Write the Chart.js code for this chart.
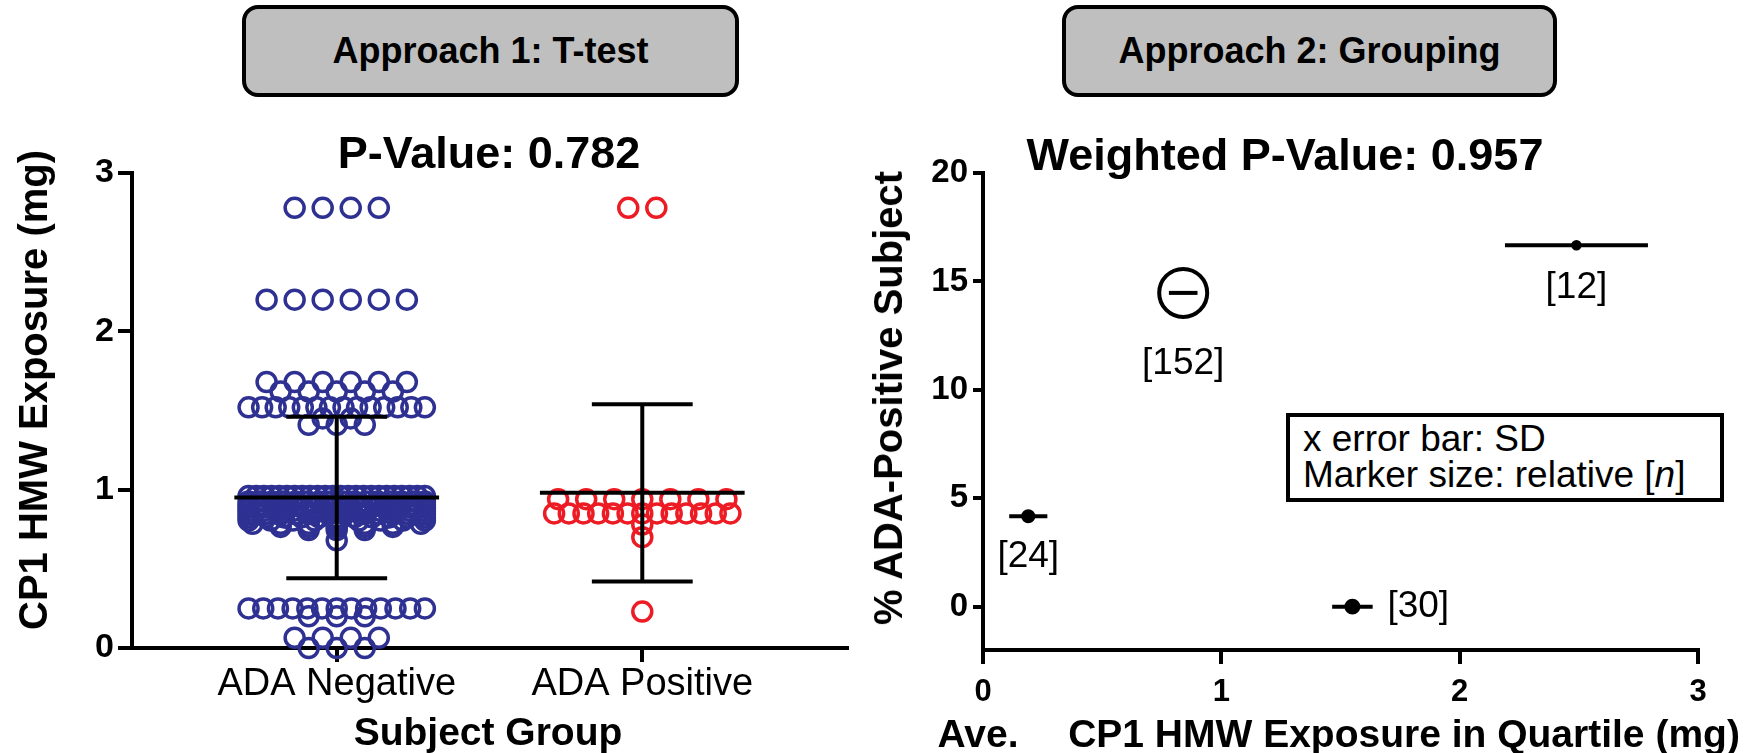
<!DOCTYPE html>
<html>
<head>
<meta charset="utf-8">
<script src="https://cdn.jsdelivr.net/npm/chart.js@4.4.1/dist/chart.umd.min.js"></script>
<style>
  body { margin: 0; background: #fff; }
  #wrap { position: relative; width: 1749px; height: 753px; overflow: hidden; font-family: "Liberation Sans", Arial, sans-serif; color: #000; }
  canvas { position: absolute; top: 0; }
  .hdr { position: absolute; top: 5px; height: 92px; box-sizing: border-box; border: 4px solid #000; border-radius: 16px; background: #bfbfbf;
         font-weight: bold; font-size: 36px; display: flex; align-items: center; justify-content: center; }
  .t { position: absolute; white-space: nowrap; line-height: 1; font-weight: bold; transform: translate(-50%, -50%); }
  .rot { transform: translate(-50%, -50%) rotate(-90deg); }
  #note { position: absolute; left: 1286px; top: 413px; width: 438px; height: 89px; box-sizing: border-box; border: 4px solid #000;
          padding: 4px 0 0 13px; font-size: 37px; line-height: 36px; white-space: nowrap; background: #fff; }
</style>
</head>
<body>
<div id="wrap">
  <canvas id="left" width="880" height="753" style="left:0"></canvas>
  <canvas id="right" width="869" height="753" style="left:880px"></canvas>

  <div class="hdr" style="left:242px; width:497px">Approach 1: T-test</div>
  <div class="hdr" style="left:1062px; width:495px">Approach 2: Grouping</div>

  <div class="t" style="left:489px; top:152px; font-size:45px">P-Value: 0.782</div>
  <div class="t" style="left:1285px; top:154px; font-size:45px">Weighted P-Value: 0.957</div>

  <div class="t rot" style="left:33px; top:390px; font-size:40px">CP1 HMW Exposure (mg)</div>
  <div class="t" style="left:488px; top:731px; font-size:39px">Subject Group</div>

  <div class="t rot" style="left:888px; top:398px; font-size:40px">% ADA-Positive Subject</div>
  <div class="t" style="left:978px; top:733px; font-size:39px">Ave.</div>
  <div class="t" style="left:1404px; top:733px; font-size:39px">CP1 HMW Exposure in Quartile (mg)</div>

  <div id="note">x error bar: SD<br>Marker size: relative [<i>n</i>]</div>
</div>
<script>
// ---- Approach 1: individual exposures per subject group ----
const categories = ['ADA Negative', 'ADA Positive'];
const negValues = [2.78, 2.20, 1.68, 1.62, 1.52, 1.45, 1.41,
                   0.96, 0.925, 0.905, 0.885, 0.865, 0.845, 0.825, 0.805, 0.785, 0.765, 0.745, 0.68,
                   0.25, 0.20, 0.065, 0.0];
const negCounts = [4, 6, 6, 5, 14, 2, 3,
                   24, 16, 15, 14, 13, 12, 11, 9, 7, 5, 3, 1,
                   13, 3, 4, 3];
const posValues = [2.78, 0.94, 0.85, 0.78, 0.70, 0.23];
const posCounts = [2, 7, 13, 1, 1, 1];
const groupMean = [0.95, 0.98];
const groupSD = [0.51, 0.56];
const leftYTicks = [0, 1, 2, 3];

// ---- Approach 2: quartile groups ----
const quartileN = [24, 152, 30, 12];
const quartileX = [0.19, 0.84, 1.55, 2.49];
const quartileSD = [0.08, 0.06, 0.085, 0.30];
const quartilePct = [4.17, 14.47, 0, 16.67];
const rightXTicks = [0, 1, 2, 3];
const rightYTicks = [0, 5, 10, 15, 20];

const FONT = '"Liberation Sans", Arial, sans-serif';
const BLUE = '#2e3192';
const RED = '#ed1c24';
Chart.defaults.font.family = FONT;
Chart.defaults.color = '#000';

// scatter-dot layout: equal values sit side by side, squeezed when a row gets too wide
const PX_PER_CAT = 305, GAP = 28, HALF = 88;
function swarm(values, counts, cat) {
    const pts = [];
    values.forEach((v, i) => {
        const n = counts[i];
        const step = n > 1 ? Math.min(GAP, 2 * HALF / (n - 1)) : 0;
        for (let k = 0; k < n; k++) {
            pts.push({ x: cat + (k - (n - 1) / 2) * step / PX_PER_CAT, y: v });
        }
    });
    return pts;
}

function seg(x1, y1, x2, y2) {
    return {
        data: [{ x: x1, y: y1 }, { x: x2, y: y2 }],
        showLine: true, pointRadius: 0, borderColor: '#000', borderWidth: 4,
        borderCapStyle: 'butt', order: 0, clip: false
    };
}

const axisStyle = {
    grid: { display: true, drawOnChartArea: false, drawTicks: true, tickLength: 14, color: '#000', lineWidth: 4 },
    border: { display: true, color: '#000', width: 4 }
};

const leftSets = [];
categories.forEach((c, g) => {
    const m = groupMean[g], sd = groupSD[g];
    leftSets.push(seg(g - 0.335, m, g + 0.335, m));
    leftSets.push(seg(g, m - sd, g, m + sd));
    leftSets.push(seg(g - 0.165, m + sd, g + 0.165, m + sd));
    leftSets.push(seg(g - 0.165, m - sd, g + 0.165, m - sd));
});
leftSets.push({
    label: categories[0], data: swarm(negValues, negCounts, 0),
    pointRadius: 9.5, borderWidth: 3.5, borderColor: BLUE, backgroundColor: 'rgba(0,0,0,0)', order: 1, clip: false
});
leftSets.push({
    label: categories[1], data: swarm(posValues, posCounts, 1),
    pointRadius: 9.5, borderWidth: 3.5, borderColor: RED, backgroundColor: 'rgba(0,0,0,0)', order: 1, clip: false
});

new Chart(document.getElementById('left'), {
    type: 'scatter',
    data: { datasets: leftSets },
    options: {
        responsive: false, animation: false, events: [],
        layout: { padding: { left: 0, top: 173, right: 33, bottom: 0 } },
        plugins: { legend: { display: false }, tooltip: { enabled: false } },
        scales: {
            x: {
                type: 'linear', min: -0.67, max: 1.67, ...axisStyle,
                afterBuildTicks: s => { s.ticks = [0, 1].map(v => ({ value: v })); },
                afterFit: s => { s.height = 105; },
                ticks: { callback: v => categories[v], font: { size: 38 }, padding: 0, maxRotation: 0, autoSkip: false }
            },
            y: {
                min: 0, max: 3, ...axisStyle,
                afterBuildTicks: s => { s.ticks = leftYTicks.map(v => ({ value: v })); },
                afterFit: s => { s.width = 132; },
                ticks: { font: { size: 34, weight: 'bold' }, padding: 4 }
            }
        }
    }
});

// [n] labels under / beside each quartile marker
const labelDx = [0, 0, 35, 0];
const labelDy = [41, 71, 0, 43];
const nLabels = {
    id: 'nLabels',
    afterDatasetsDraw(chart) {
        const { ctx, scales: { x, y } } = chart;
        ctx.save();
        ctx.font = '37px ' + FONT;
        ctx.fillStyle = '#000';
        ctx.textBaseline = 'middle';
        quartileN.forEach((n, i) => {
            ctx.textAlign = labelDx[i] > 0 ? 'left' : 'center';
            ctx.fillText('[' + n + ']', x.getPixelForValue(quartileX[i]) + labelDx[i], y.getPixelForValue(quartilePct[i]) + labelDy[i]);
        });
        ctx.restore();
    }
};

const rightSets = quartileX.map((mx, i) => seg(mx - quartileSD[i], quartilePct[i], mx + quartileSD[i], quartilePct[i]));
rightSets.push({
    data: quartileX.map((mx, i) => ({ x: mx, y: quartilePct[i] })),
    pointRadius: quartileN.map(n => 1.5 + 0.148 * n),
    borderWidth: 4, borderColor: '#000',
    backgroundColor: quartileN.map(n => n < 100 ? '#000' : 'rgba(0,0,0,0)'),
    order: 1, clip: false
});

new Chart(document.getElementById('right'), {
    type: 'scatter',
    data: { datasets: rightSets },
    plugins: [nLabels],
    options: {
        responsive: false, animation: false, events: [],
        layout: { padding: { left: 0, top: 173, right: 51, bottom: 0 } },
        plugins: { legend: { display: false }, tooltip: { enabled: false } },
        scales: {
            x: {
                type: 'linear', min: 0, max: 3, ...axisStyle,
                afterBuildTicks: s => { s.ticks = rightXTicks.map(v => ({ value: v })); },
                afterFit: s => { s.height = 103; },
                ticks: { font: { size: 31, weight: 'bold' }, padding: 10, maxRotation: 0 }
            },
            y: {
                min: -2, max: 20, ...axisStyle,
                grid: { ...axisStyle.grid, tickLength: 10 },
                afterBuildTicks: s => { s.ticks = rightYTicks.map(v => ({ value: v })); },
                afterFit: s => { s.width = 103; },
                ticks: { font: { size: 33, weight: 'bold' }, padding: 5 }
            }
        }
    }
});
</script>
</body>
</html>
